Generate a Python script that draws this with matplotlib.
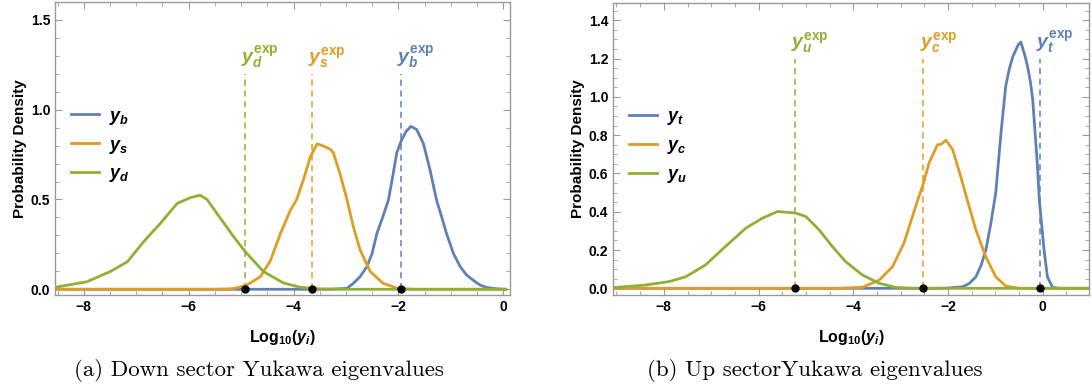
import matplotlib
matplotlib.use("Agg")
import matplotlib.pyplot as plt
from matplotlib.ticker import MultipleLocator, FormatStrFormatter

plt.rcParams['font.family'] = ['Liberation Sans', 'DejaVu Sans']
plt.rcParams['font.weight'] = 'bold'
plt.rcParams['mathtext.fontset'] = 'custom'
plt.rcParams['mathtext.rm'] = 'Liberation Sans:bold'
plt.rcParams['mathtext.it'] = 'Liberation Sans:italic:bold'
plt.rcParams['mathtext.bf'] = 'Liberation Sans:bold'

BLUE = '#5E81B5'
ORANGE = '#E19C24'
GREEN = '#8FB032'
FRAME = '#999999'

# --- down sector ---
yb_x = [-8.55, -3.3, -2.98, -2.86, -2.73, -2.60, -2.50, -2.41, -2.30, -2.19, -2.10, -2.03,
        -1.94, -1.85, -1.76, -1.65, -1.52, -1.40, -1.27, -1.17, -1.08, -0.95, -0.82,
        -0.70, -0.57, -0.45, -0.32, -0.1, 0.05]
yb_y = [0, 0, 0.005, 0.033, 0.07, 0.126, 0.2, 0.31, 0.40, 0.496, 0.64, 0.76,
        0.83, 0.88, 0.907, 0.89, 0.81, 0.67, 0.496, 0.40, 0.31, 0.2, 0.126,
        0.08, 0.05, 0.025, 0.01, 0.002, 0]

ys_x = [-8.55, -5.4, -5.14, -4.89, -4.63, -4.44, -4.25, -4.06, -3.94, -3.80, -3.68,
        -3.55, -3.45, -3.30, -3.24, -3.11, -2.98, -2.86, -2.73, -2.54, -2.29, -2.0, -1.7, 0.05]
ys_y = [0, 0, 0.004, 0.024, 0.07, 0.16, 0.31, 0.44, 0.5, 0.62, 0.737,
        0.81, 0.80, 0.78, 0.76, 0.64, 0.5, 0.35, 0.22, 0.1, 0.033, 0.004, 0, 0]

yd_x = [-8.55, -7.94, -7.49, -7.17, -6.86, -6.54, -6.22, -5.97, -5.78, -5.65, -5.46,
        -5.14, -4.92, -4.57, -4.19, -3.87, -3.5, -3.0, 0.05]
yd_y = [0.011, 0.042, 0.1, 0.153, 0.265, 0.367, 0.478, 0.51, 0.524, 0.5, 0.422,
        0.292, 0.209, 0.098, 0.035, 0.011, 0.002, 0, 0]

down_exp = [-4.92, -3.64, -1.94]   # y_d, y_s, y_b

# --- up sector ---
yt_x = [-9.1, -2.3, -2.04, -1.69, -1.55, -1.41, -1.30, -1.20, -1.10, -0.99, -0.88, -0.78,
        -0.70, -0.63, -0.52, -0.46, -0.38, -0.32, -0.26, -0.21, -0.11, -0.07, 0.03,
        0.10, 0.21, 0.35, 1.0]
yt_y = [0, 0, 0.001, 0.008, 0.025, 0.06, 0.12, 0.2, 0.33, 0.5, 0.81, 1.056,
        1.15, 1.21, 1.27, 1.286, 1.22, 1.16, 1.08, 0.986, 0.64, 0.46, 0.2,
        0.06, 0.005, 0, 0]

yc_x = [-9.1, -4.3, -3.81, -3.45, -3.17, -2.93, -2.75, -2.64, -2.54, -2.40, -2.22,
        -2.15, -2.04, -1.90, -1.73, -1.59, -1.41, -1.20, -0.99, -0.78, -0.5, 1.0]
yc_y = [0, 0, 0.005, 0.043, 0.113, 0.235, 0.375, 0.46, 0.53, 0.654, 0.75,
        0.752, 0.773, 0.724, 0.584, 0.46, 0.305, 0.165, 0.06, 0.012, 0, 0]

yu_x = [-9.1, -8.39, -7.89, -7.54, -7.12, -6.70, -6.27, -5.92, -5.60, -5.22, -5.00,
        -4.72, -4.44, -4.16, -3.81, -3.45, -3.10, -2.75, 1.0]
yu_y = [0.003, 0.017, 0.035, 0.06, 0.122, 0.218, 0.314, 0.366, 0.401, 0.393, 0.375,
        0.305, 0.218, 0.139, 0.07, 0.026, 0.005, 0, 0]

up_exp = [-5.23, -2.52, -0.05]     # y_u, y_c, y_t


def style_axes(ax, xlim, ylim, ymajor, yminor):
    ax.set_xlim(*xlim)
    ax.set_ylim(*ylim)
    ax.xaxis.set_major_locator(MultipleLocator(2))
    ax.xaxis.set_minor_locator(MultipleLocator(0.5))
    ax.yaxis.set_major_locator(MultipleLocator(ymajor))
    ax.yaxis.set_minor_locator(MultipleLocator(yminor))
    ax.yaxis.set_major_formatter(FormatStrFormatter('%.1f'))
    ax.tick_params(which='both', direction='in', top=True, right=True,
                   color=FRAME, labelsize=10, labelcolor='black')
    ax.tick_params(which='major', length=5, width=0.8)
    ax.tick_params(which='minor', length=3, width=0.6)
    for s in ax.spines.values():
        s.set_color(FRAME)
        s.set_linewidth(1.0)
    ax.set_xlabel(r'$\mathrm{Log_{10}(}y_i\mathrm{)}$', fontsize=11.5, labelpad=10)
    ax.set_ylabel('Probability Density', fontsize=11, fontweight='bold', labelpad=3)


def draw_panel(ax, curves, names, exp_x, exp_names, colors):
    for (cx, cy), name, c in zip(curves, names, colors):
        ax.plot(cx, cy, color=c, lw=2.0, label=name, solid_joinstyle='round')
    for xe, lab, c in zip(exp_x, exp_names, colors[::-1]):
        ax.plot([xe, xe], [0, 1.2], color=c, lw=1.1, ls=(0, (4, 3)))
        ax.text(xe - 0.08, 1.215, lab, color=c, fontsize=14, ha='left', va='bottom')
        ax.plot(xe, 0, 'o', color='black', ms=5, zorder=5, clip_on=False)
    ax.legend(loc='upper left', bbox_to_anchor=(0.0, 0.695), frameon=False,
              fontsize=13, handlelength=1.55, handletextpad=0.55, labelspacing=0.55)


fig = plt.figure(figsize=(10.92, 3.92), dpi=100)
ax1 = fig.add_axes([0.0504, 0.2474, 0.4166, 0.7476])
ax2 = fig.add_axes([0.5615, 0.2474, 0.4358, 0.7450])

style_axes(ax1, (-8.55, 0.13), (-0.032, 1.6), 0.5, 0.1)
style_axes(ax2, (-9.07, 0.98), (-0.035, 1.49), 0.2, 0.05)

draw_panel(ax1, [(yb_x, yb_y), (ys_x, ys_y), (yd_x, yd_y)],
           [r'$y_b$', r'$y_s$', r'$y_d$'],
           down_exp,
           [r'$y_d^{\mathrm{exp}}$', r'$y_s^{\mathrm{exp}}$', r'$y_b^{\mathrm{exp}}$'],
           [BLUE, ORANGE, GREEN])

draw_panel(ax2, [(yt_x, yt_y), (yc_x, yc_y), (yu_x, yu_y)],
           [r'$y_t$', r'$y_c$', r'$y_u$'],
           up_exp,
           [r'$y_u^{\mathrm{exp}}$', r'$y_c^{\mathrm{exp}}$', r'$y_t^{\mathrm{exp}}$'],
           [BLUE, ORANGE, GREEN])

fig.text(259 / 1092, 1 - 371 / 392, '(a) Down sector Yukawa eigenvalues',
         fontfamily='cmr10', fontweight='normal', fontsize=16.5, ha='center', va='center')
fig.text(815 / 1092, 1 - 371 / 392, '(b) Up sectorYukawa eigenvalues',
         fontfamily='cmr10', fontweight='normal', fontsize=16.5, ha='center', va='center')

fig.savefig('out.png', dpi=100)
